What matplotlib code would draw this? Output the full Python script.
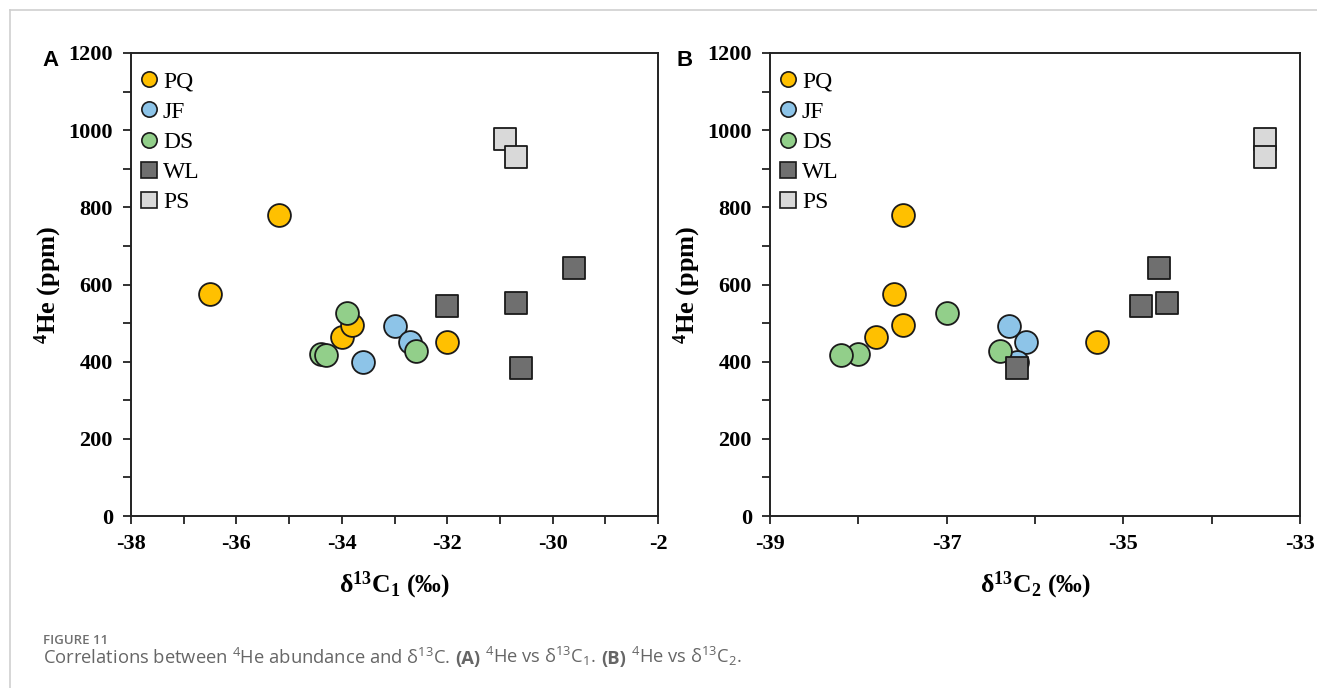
import matplotlib.pyplot as plt
from matplotlib.lines import Line2D

# sample groups (legend order)
groups = ['PQ', 'JF', 'DS', 'WL', 'PS']
colors = ['#FFC000', '#8DC4E8', '#92CF8A', '#6F6F6F', '#D9D9D9']
markers = ['o', 'o', 'o', 's', 's']

# 4He (ppm) for each group
he_pq = [576, 779, 464, 494, 451]
he_jf = [493, 451, 398]
he_ds = [420, 418, 526, 428]
he_wl = [543, 553, 383, 644]
he_ps = [978, 931]

# delta13C1 (permil)
c1_pq = [-36.5, -35.2, -34.0, -33.8, -32.0]
c1_jf = [-33.0, -32.7, -33.6]
c1_ds = [-34.4, -34.3, -33.9, -32.6]
c1_wl = [-32.0, -30.7, -30.6, -29.6]
c1_ps = [-30.9, -30.7]

# delta13C2 (permil)
c2_pq = [-37.6, -37.5, -37.8, -37.5, -35.3]
c2_jf = [-36.3, -36.1, -36.2]
c2_ds = [-38.0, -38.2, -37.0, -36.4]
c2_wl = [-34.8, -34.5, -36.2, -34.6]
c2_ps = [-33.4, -33.4]

he_all = [he_pq, he_jf, he_ds, he_wl, he_ps]
c1_all = [c1_pq, c1_jf, c1_ds, c1_wl, c1_ps]
c2_all = [c2_pq, c2_jf, c2_ds, c2_wl, c2_ps]

xticks_a = [-38, -36, -34, -32, -30, -28]
xlabels_a = ['-38', '-36', '-34', '-32', '-30', '-2']
xticks_b = [-39, -37, -35, -33]
xlabels_b = ['-39', '-37', '-35', '-33']
yticks = [0, 200, 400, 600, 800, 1000, 1200]
ylabels = [str(v) for v in yticks]

serif = 'Liberation Serif'

fig = plt.figure(figsize=(13.17, 6.88), dpi=100)

# frame lines of the page
fig.add_artist(Line2D([10 / 1317, 1], [1 - 10 / 688] * 2, color='#cfcfcf', lw=1.2))
fig.add_artist(Line2D([10 / 1317] * 2, [0, 1 - 10 / 688], color='#cfcfcf', lw=1.2))

ax_a = fig.add_axes([131 / 1317, 1 - 516 / 688, 527 / 1317, 463 / 688])
ax_b = fig.add_axes([770 / 1317, 1 - 516 / 688, 530 / 1317, 463 / 688])


def draw_panel(ax, xs_all, xlim, xticks, xlabels, xminor, sub):
    for col, mk, xs, ys in zip(colors, markers, xs_all, he_all):
        size = 270 if mk == 'o' else 240
        ax.scatter(xs, ys, s=size, marker=mk, facecolor=col, edgecolor='#1a1a1a',
                   linewidth=1.3, zorder=3)
    ax.set_xlim(xlim)
    ax.set_ylim(0, 1200)
    ax.set_xticks(xticks)
    ax.set_xticks(xminor, minor=True)
    ax.set_yticks(yticks)
    ax.set_yticks(range(100, 1200, 200), minor=True)
    ax.set_xticklabels(xlabels, fontfamily=serif, fontweight='bold', fontsize=16)
    ax.set_yticklabels(ylabels, fontfamily=serif, fontweight='bold', fontsize=16)
    ax.tick_params(which='both', direction='out', width=1.3, color='#222222')
    ax.tick_params(which='major', length=6, pad=7)
    ax.tick_params(which='minor', length=6)
    for sp in ax.spines.values():
        sp.set_linewidth(1.4)
        sp.set_color('#222222')
    ax.set_xlabel('δ$\\mathregular{^{13}C_%s}$ (‰)' % sub, fontfamily=serif,
                  fontweight='bold', fontsize=18.5, labelpad=11)
    ax.set_ylabel('$\\mathregular{^4}$He (ppm)', fontfamily=serif, fontweight='bold',
                  fontsize=19, labelpad=3)

    handles = [Line2D([], [], ls='none', marker=mk, markersize=11, markerfacecolor=col,
                      markeredgecolor='#1a1a1a', markeredgewidth=1.2)
               for col, mk in zip(colors, markers)]
    ax.legend(handles, groups, loc='upper left', bbox_to_anchor=(0, 0.987),
              frameon=False, prop={'family': serif, 'size': 17},
              handletextpad=0.35, labelspacing=0.37, borderaxespad=0.2,
              handlelength=0.5, borderpad=0.3)


draw_panel(ax_a, c1_all, (-38, -28), xticks_a, xlabels_a, [-37, -35, -33, -31, -29], '1')
draw_panel(ax_b, c2_all, (-39, -33), xticks_b, xlabels_b, [-38, -36, -34], '2')

fig.text(42 / 1317, 1 - 60 / 688, 'A', fontfamily='Liberation Sans', fontweight='bold',
         fontsize=16, va='center')
fig.text(676 / 1317, 1 - 60 / 688, 'B', fontfamily='Liberation Sans', fontweight='bold',
         fontsize=16, va='center')

# caption
cap_font = 'Open Sans'
fig.text(43 / 1317, 1 - 640 / 688, 'FIGURE 11', fontfamily=cap_font, fontsize=9.5,
         fontweight='semibold', color='#707070', va='center')
pieces = [
    ('Correlations between $\\mathregular{^4}$He abundance and δ$\\mathregular{^{13}}$C.', 'normal'),
    ('(A)', 'bold'),
    ('$\\mathregular{^4}$He vs δ$\\mathregular{^{13}C_1}$.', 'normal'),
    ('(B)', 'bold'),
    ('$\\mathregular{^4}$He vs δ$\\mathregular{^{13}C_2}$.', 'normal'),
]
prev = fig.text(43 / 1317, 1 - 664 / 688, pieces[0][0], fontfamily=cap_font,
                fontsize=13.2, color='#666666', va='baseline')
for txt, wt in pieces[1:]:
    # each piece follows the previous one after a word space
    prev = ax_a.annotate(txt, xy=(1, 0), xycoords=prev, xytext=(3.6, 0),
                         textcoords='offset points', va='bottom', ha='left',
                         fontfamily=cap_font, fontsize=13.2, color='#666666',
                         fontweight=wt, annotation_clip=False)

fig.savefig('out.png', dpi=100)
